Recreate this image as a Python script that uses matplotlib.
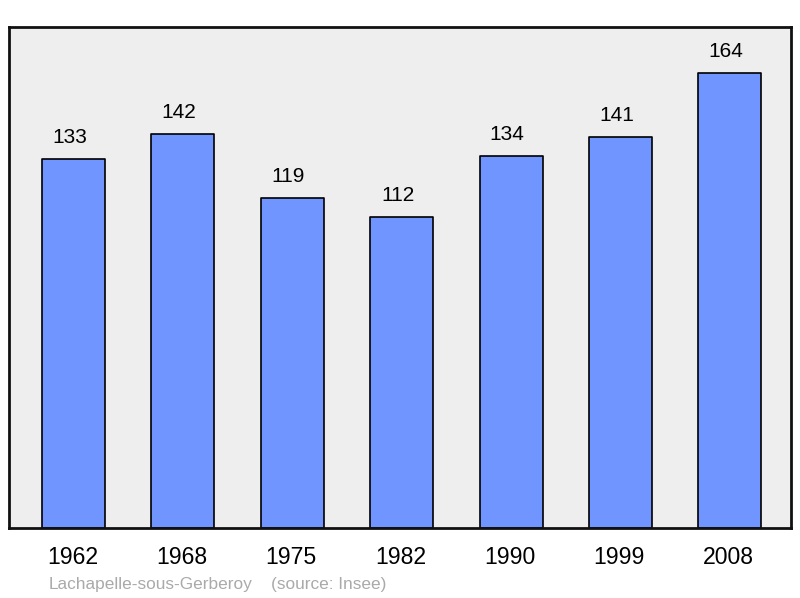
import matplotlib
matplotlib.use('Agg')
import matplotlib.pyplot as plt
import numpy as np

plt.rcParams['font.family'] = ['Liberation Sans', 'DejaVu Sans']

years = ['1962', '1968', '1975', '1982', '1990', '1999', '2008']
population = [133, 142, 119, 112, 134, 141, 164]
commune = 'Lachapelle-sous-Gerberoy'
source = '(source: Insee)'

fig = plt.figure(figsize=(8, 5.98), dpi=100)
# axes box: x 9..791, y 27..528 px
ax = fig.add_axes([9/800, 1-528/598, 782/800, 501/598])
ax.set_facecolor('#eeeeee')

x = np.arange(len(years))
bars = ax.bar(x, population, width=0.576, color='#7095ff', edgecolor='black',
              linewidth=1.2, joinstyle='round', zorder=2)

# value labels sit a bit left of bar centre, like the original
for xi, v in zip(x, population):
    ax.annotate(str(v), (xi, v), xytext=(-4, 12), textcoords='offset pixels',
                ha='center', va='bottom', fontsize=15, color='black')

ax.set_xlim(-0.59, 6.56)
ax.set_ylim(0, 180.6)
ax.set_yticks([])
ax.set_xticks(x - 0.01)
ax.set_xticklabels(years, fontsize=16.6)
ax.tick_params(axis='x', length=0, pad=13)
for s in ax.spines.values():
    s.set_linewidth(2)
    s.set_color('#111111')
    s.set_joinstyle('round')

fig.text(49/800, 1-584/598, commune, fontsize=12.4, color='#aaaaaa', va='center')
fig.text(271/800, 1-584/598, source, fontsize=12.4, color='#aaaaaa', va='center')

fig.savefig('out.png', dpi=100)
